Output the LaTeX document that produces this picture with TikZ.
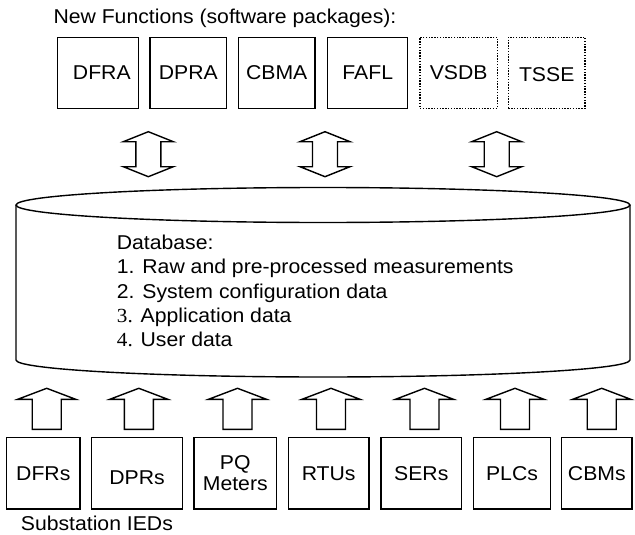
\documentclass[tikz,border=0pt]{standalone}
\usepackage{fontspec}
\setmainfont{Liberation Sans}[FakeStretch=1.06]
\newfontfamily\numfont{Liberation Serif}[FakeStretch=1.06]
\begin{document}
\begin{tikzpicture}[x=1pt,y=-1pt,
  every node/.style={font=\fontsize{20}{23}\selectfont},
  fbox/.style={draw,line width=1.4pt,minimum height=71pt,inner sep=0pt,align=center},
  dotbox/.style={fbox,dash pattern=on 1.4pt off 1.4pt},
  ibox/.style={draw,line width=1.4pt,minimum height=71.3pt,inner sep=0pt,align=center},
  lowtext/.style={text height=#1,text depth=0pt},
  blockarrow/.style={draw,line width=1.4pt,line join=miter,fill=white},
  dbline/.style={anchor=base west,inner sep=0pt},
  caption/.style={anchor=base west,inner sep=0pt}]
\useasboundingbox (0,0) rectangle (635,535);

% up arrow from an IED box into the database: #1 = centre x
\newcommand\feedarrow[1]{%
  \draw[blockarrow] (#1-14.5,429.3) -- (#1-14.5,399.3) -- (#1-29,399.3) -- (#1,388.3)
    -- (#1+29,399.3) -- (#1+14.5,399.3) -- (#1+14.5,429.3) -- cycle;}
% two-way arrow between a function package and the database: #1 = centre x
\newcommand\exchangearrow[1]{%
  \draw[blockarrow] (#1,131.7) -- (#1+25,141.7) -- (#1+12.5,141.7) -- (#1+12.5,166.7)
    -- (#1+25,166.7) -- (#1,176.7) -- (#1-25,166.7) -- (#1-12.5,166.7)
    -- (#1-12.5,141.7) -- (#1-25,141.7) -- cycle;}

% new functions
\node[caption] (title) at (53.3,24) {New Functions (software packages):};
\node[fbox,minimum width=81pt]   (dfra) at (97.8,72.8)  {\hspace*{8pt}DFRA};
\node[fbox,minimum width=76.7pt] (dpra) at (188.3,72.8) {DPRA};
\node[fbox,minimum width=76.7pt] (cbma) at (276.7,72.8) {CBMA};
\node[fbox,minimum width=80pt]   (fafl) at (367.7,72.8) {FAFL};
\node[dotbox,minimum width=77.3pt] (vsdb) at (458.7,72.8) {VSDB};
\node[dotbox,minimum width=76.7pt,lowtext=18pt] (tsse) at (546.7,72.8) {TSSE};

\exchangearrow{148.3}
\exchangearrow{325}
\exchangearrow{496.7}

% database cylinder
\coordinate (dbtl) at (16,205);
\coordinate (dbtr) at (630,205);
\coordinate (dbbl) at (16,360);
\coordinate (dbbr) at (630,360);
\draw[line width=1.4pt] (323,205) ellipse[x radius=307,y radius=17.5];
\draw[line width=1.4pt] (dbtl) -- (dbbl) arc[start angle=180,end angle=0,x radius=307,y radius=17]
  -- (dbtr);

\node[dbline] (db0) at (116.7,249.3) {Database:};
\node[dbline] (db1) at (116.7,273.7) {1. Raw and pre-processed measurements};
\node[dbline] (db2) at (116.7,298.1) {2. System configuration data};
\node[dbline] (db3) at (116.7,322.5) {{\numfont 3.} Application data};
\node[dbline] (db4) at (116.7,346.9) {{\numfont 4.} User data};

% substation IEDs
\feedarrow{46.7}
\feedarrow{138.8}
\feedarrow{237.5}
\feedarrow{331}
\feedarrow{424.5}
\feedarrow{515}
\feedarrow{601.7}

\node[ibox,minimum width=73.3pt] (dfrs) at (43.3,473.3)  {DFRs};
\node[ibox,minimum width=90.6pt,lowtext=22pt] (dprs) at (137,473.3) {DPRs};
\node[ibox,minimum width=82.7pt] (pq)   at (235.3,473.3) {PQ\\[-2pt]Meters};
\node[ibox,minimum width=80.7pt] (rtus) at (328.7,473.3) {RTUs};
\node[ibox,minimum width=80.7pt] (sers) at (421.3,473.3) {SERs};
\node[ibox,minimum width=77.4pt] (plcs) at (512,473.3)   {PLCs};
\node[ibox,minimum width=70.3pt] (cbms) at (596.8,473.3) {CBMs};
\node[caption] (ieds) at (20.7,530.7) {Substation IEDs};
\end{tikzpicture}
\end{document}
